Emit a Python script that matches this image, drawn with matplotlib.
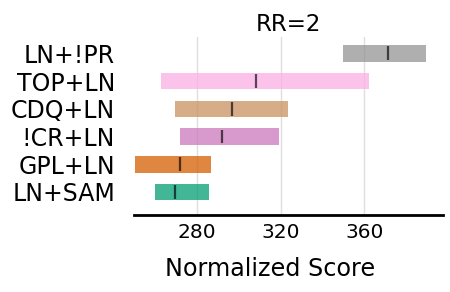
import matplotlib
matplotlib.use("Agg")
import matplotlib.pyplot as plt

algorithms = ["LN+SAM", "GPL+LN", "!CR+LN", "CDQ+LN", "TOP+LN", "LN+!PR"]
lows = [259.8, 250.2, 271.7, 269.3, 262.6, 349.8]
highs = [285.6, 286.6, 319.1, 323.4, 362.3, 389.6]
medians = [269.3, 271.7, 291.8, 296.6, 308.4, 371.2]
colors = ["#029e73", "#d55e00", "#cc78bc", "#ca9161", "#fbafe4", "#949494"]
xticks = [280, 320, 360]

fig = plt.figure(figsize=(4.5, 2.92), dpi=100)
ax = fig.add_axes([0.2985, 0.2637, 0.6853, 0.6103])

for i, (lo, hi, med, c) in enumerate(zip(lows, highs, medians, colors)):
    ax.barh(i, hi - lo, left=lo, height=0.6, color=c, alpha=0.75)
    ax.vlines(med, i - 0.25, i + 0.25, color="k", alpha=0.65, linewidth=1.6)

ax.set_yticks(range(len(algorithms)))
ax.set_yticklabels(algorithms, fontsize=17)
ax.set_xticks(xticks)
ax.set_xticklabels([str(t) for t in xticks], fontsize=14.5)
ax.set_xlim(250, 397.5)
ax.set_ylim(-0.83, 5.6)
ax.set_xlabel("Normalized Score", fontsize=17.2)
ax.xaxis.set_label_coords(0.44, -0.235)
ax.xaxis.label.set_verticalalignment("top")
ax.set_title("RR=2", fontsize=16.5, pad=4)
ax.grid(axis="x", alpha=0.25, color="gray", linewidth=1)
ax.set_axisbelow(True)
for s in ["left", "right", "top"]:
    ax.spines[s].set_visible(False)
ax.spines["bottom"].set_linewidth(2)
ax.tick_params(axis="x", length=0, pad=6)
ax.tick_params(axis="y", length=0, pad=14)

fig.savefig("out.png", dpi=100)
